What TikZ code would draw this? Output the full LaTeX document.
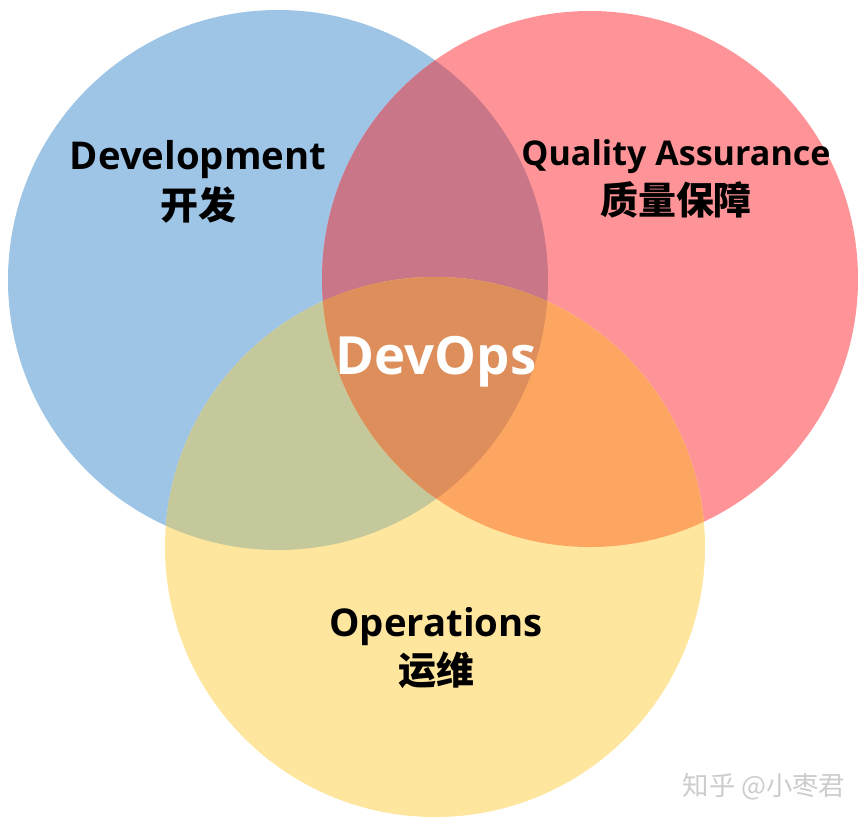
\documentclass[tikz,border=0pt]{standalone}
\usepackage{fontspec}
\setmainfont{Open Sans}
\newfontfamily\cjk{Noto Sans CJK SC}
\usepackage{tikz}
\def\devcircle{(2.78,5.36) circle (2.70cm)}
\def\qacircle{(5.90,5.37) circle (2.68cm)}
\def\opscircle{(4.35,2.69) circle (2.70cm)}
\definecolor{dev area}{RGB}{158,196,230}
\definecolor{qa area}{RGB}{255,148,152}
\definecolor{ops area}{RGB}{255,230,158}
\definecolor{devqa area}{RGB}{200,118,136}
\definecolor{devops area}{RGB}{196,200,154}
\definecolor{qaops area}{RGB}{253,166,98}
\definecolor{all area}{RGB}{221,142,90}
\tikzset{label/.style={font=\bfseries\fontsize{10.9pt}{12pt}\selectfont, text=black, inner sep=0pt},
    cnlabel/.style={font=\cjk\bfseries\fontsize{10.8pt}{12pt}\selectfont, text=black, inner sep=0pt}}

\begin{document}
\begin{tikzpicture}
    \useasboundingbox (0,0) rectangle (8.58,8.16);
    \fill[dev area] \devcircle;
    \fill[qa area] \qacircle;
    \fill[ops area] \opscircle;
    \begin{scope}
        \clip \devcircle;
        \fill[devqa area] \qacircle;
        \fill[devops area] \opscircle;
    \end{scope}
    \begin{scope}
        \clip \qacircle;
        \fill[qaops area] \opscircle;
    \end{scope}
    \begin{scope}
        \clip \devcircle;
        \clip \qacircle;
        \fill[all area] \opscircle;
    \end{scope}
    \node[label] (dev) at (1.98,6.56) {Development};
    \node[cnlabel] (devcn) at (1.98,6.11) {开发};
    \node[label, font=\bfseries\fontsize{9.7pt}{12pt}\selectfont] (qa) at (6.76,6.59) {Quality Assurance};
    \node[cnlabel] (qacn) at (6.76,6.16) {质量保障};
    \node[label, text=white, font=\bfseries\fontsize{15pt}{18pt}\selectfont] (devops) at (4.36,4.54) {DevOps};
    \node[label] (ops) at (4.36,1.89) {Operations};
    \node[cnlabel] (opscn) at (4.36,1.46) {运维};
    %\node[anchor=south] at (current bounding box.north) {DevOps};
    \node[font=\cjk\fontsize{7.5pt}{8pt}\selectfont, text=black!20, inner sep=0pt] (mark) at (7.64,0.29) {知乎 @小枣君};
\end{tikzpicture}
\end{document}
